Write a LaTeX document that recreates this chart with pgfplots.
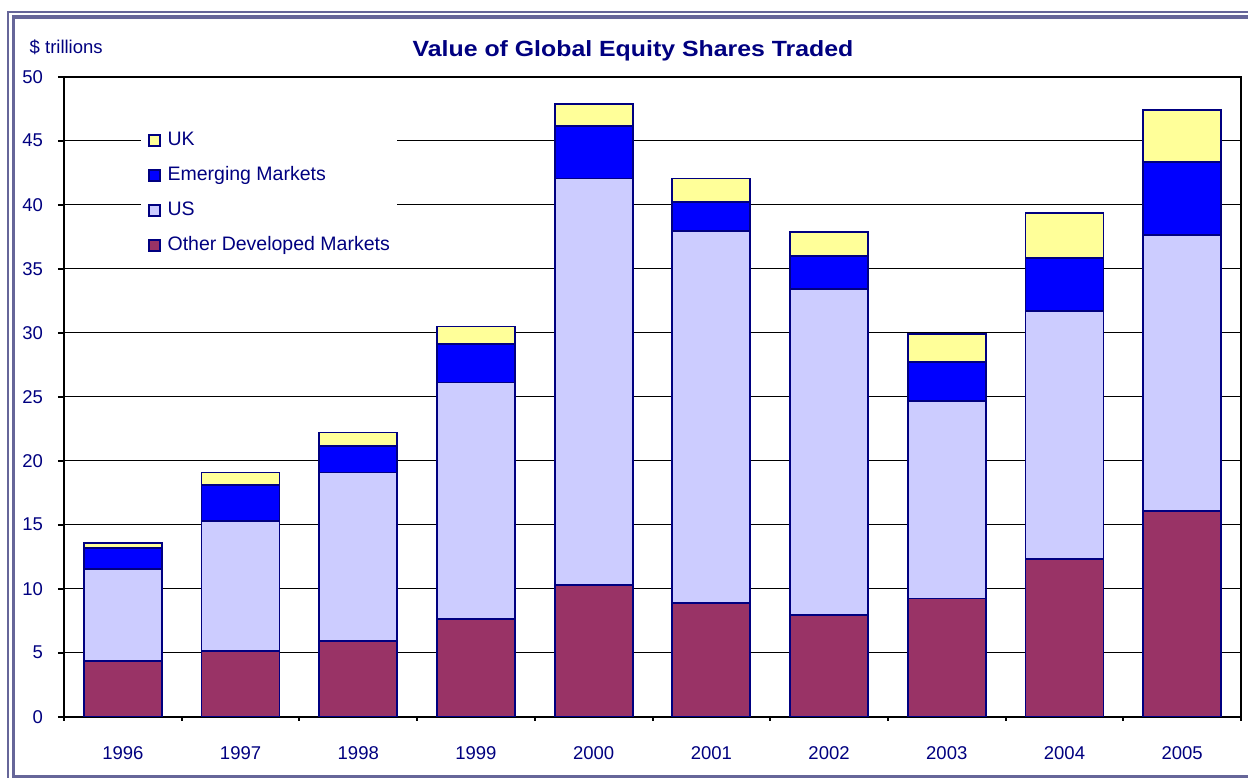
\documentclass[border=0pt]{standalone}
\usepackage{fontspec}
\setmainfont{Liberation Sans}
\usepackage{graphicx}
\usepackage{pgfplots}
\pgfplotsset{compat=1.18}
\definecolor{navytxt}{HTML}{000080}
\definecolor{otherc}{HTML}{993366}
\definecolor{usc}{HTML}{CCCCFF}
\definecolor{emc}{HTML}{0000FF}
\definecolor{ukc}{HTML}{FFFF99}
\definecolor{framec}{HTML}{666699}
\begin{document}
\begin{tikzpicture}
\useasboundingbox[fill=white] (0,0) rectangle (624bp,389bp);
\begin{scope}
\clip (0,0) rectangle (624bp,389bp);
\draw[framec, line width=1bp] (4.15bp,-1.9bp) rectangle (640bp,383.1bp);
\draw[framec, line width=1.75bp] (6.75bp,0.6bp) rectangle (640bp,380.6bp);
\end{scope}
\begin{axis}[
  at={(32bp,30.65bp)}, anchor=south west,
  scale only axis, width=588.5bp, height=320bp,
  ybar stacked, bar width=0.663,
  xmin=-0.5, xmax=9.5, ymin=0, ymax=50,
  xtick={-0.5,0.5,1.5,2.5,3.5,4.5,5.5,6.5,7.5,8.5,9.5},
  x tick label as interval,
  xticklabels={1996,1997,1998,1999,2000,2001,2002,2003,2004,2005},
  ytick={0,5,10,15,20,25,30,35,40,45,50},
  ymajorgrids, grid style={black, line width=0.75bp},
  axis line style={black, line width=1bp},
  tick align=outside, xtick pos=bottom, ytick pos=left,
  major tick length=3bp,
  xtick style={black, line width=1bp, /pgfplots/major tick length=2bp},
  ytick style={black, line width=1bp},
  /pgf/number format/assume math mode=true,
  every tick label/.append style={font=\fontsize{9.25bp}{11bp}\selectfont, text=navytxt},
  yticklabel style={anchor=east, inner sep=0pt, xshift=-7.35bp},
  xticklabel style={anchor=base, inner sep=0pt, yshift=-18.3bp},
  every axis plot/.append style={draw=navytxt, line width=0.9bp},
  reverse legend,
  legend cell align=left,
  legend image code/.code={\draw[#1, line width=0.8bp] (0bp,-2.75bp) rectangle (5.5bp,2.75bp);},
  legend style={at={(axis description cs:0.0652,0.9323)}, anchor=north west,
    draw=none, fill=white, inner xsep=3.65bp, inner ysep=5.5bp,
    font=\fontsize{9.75bp}{11.5bp}\selectfont, text=navytxt,
    nodes={inner sep=0pt, text height=6.9bp, text depth=2bp},
    row sep=8.6bp, column sep=3.3bp},
]
\addplot[fill=otherc] coordinates {(0,4.38) (1,5.16) (2,5.94) (3,7.64) (4,10.32) (5,8.91) (6,7.97) (7,9.23) (8,12.35) (9,16.10)};
\addlegendentry{Other Developed Markets}
\addplot[fill=usc] coordinates {(0,7.17) (1,10.14) (2,13.14) (3,18.47) (4,31.72) (5,29.06) (6,25.47) (7,15.43) (8,19.37) (9,21.56)};
\addlegendentry{US}
\addplot[fill=emc] coordinates {(0,1.62) (1,2.80) (2,2.06) (3,2.99) (4,4.12) (5,2.22) (6,2.56) (7,3.02) (8,4.09) (9,5.69)};
\addlegendentry{Emerging Markets}
\addplot[fill=ukc] coordinates {(0,0.43) (1,0.98) (2,1.06) (3,1.39) (4,1.69) (5,1.85) (6,1.84) (7,2.19) (8,3.57) (9,4.03)};
\addlegendentry{UK}
\end{axis}
\node[anchor=base west, inner sep=0pt, text=navytxt, font=\fontsize{9.25bp}{11bp}\selectfont] at (14.65bp,362.35bp) {\$ trillions};
\node[anchor=base, inner sep=0pt, text=navytxt, font=\fontsize{11bp}{13bp}\selectfont\bfseries] at (316.5bp,360.65bp) {\scalebox{1.13}[1]{Value of Global Equity Shares Traded}};
\end{tikzpicture}
\end{document}
